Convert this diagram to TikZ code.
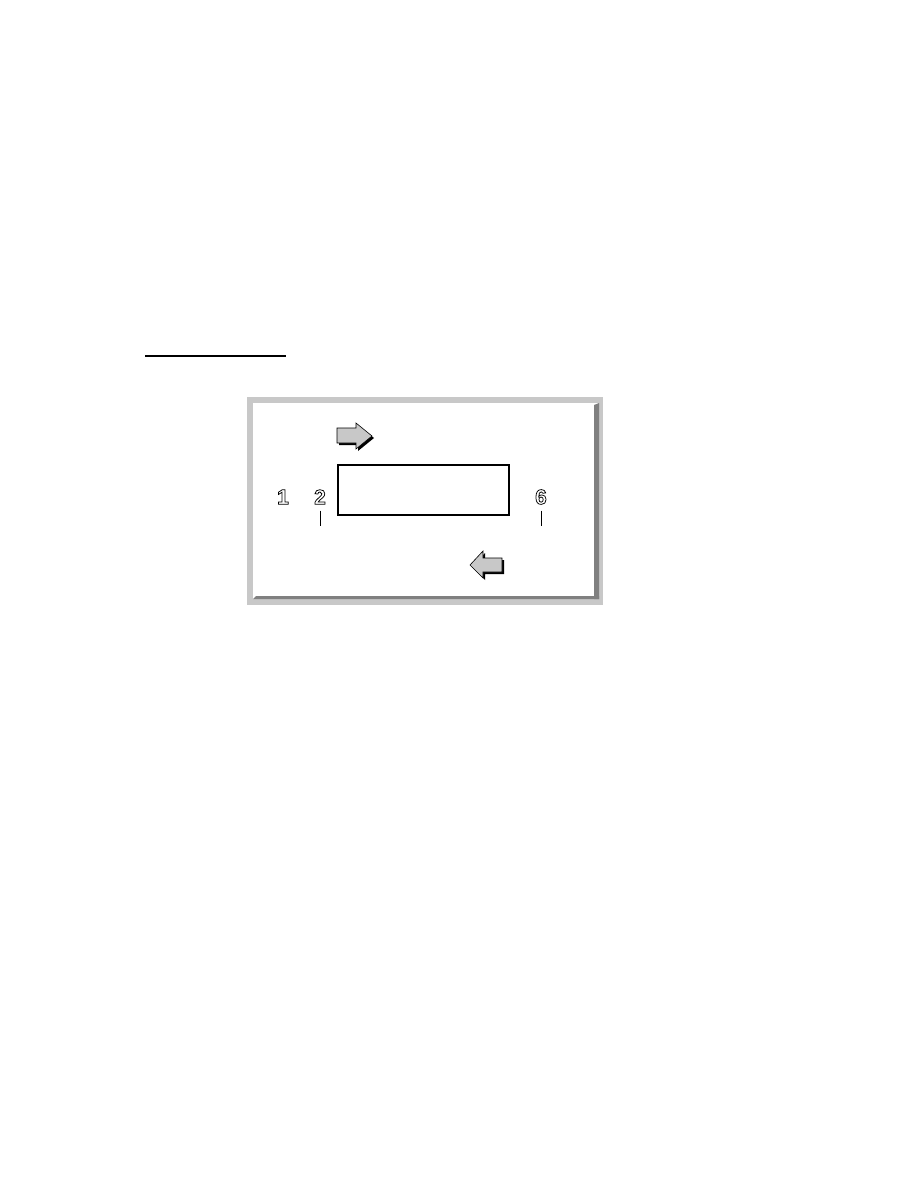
\documentclass[tikz,border=0pt]{standalone}
\usepackage{fontspec}
\setmainfont{Liberation Sans}
\usetikzlibrary{calc}
% hollow digits
\newcommand{\hollowtxt}[1]{\special{pdf:literal direct 1 Tr 0.5 w}#1\special{pdf:literal direct 0 Tr}}
\definecolor{framegray}{RGB}{200,200,200}
\definecolor{shadegray}{RGB}{128,128,128}
\definecolor{arrowgray}{RGB}{200,200,200}
\begin{document}
\begin{tikzpicture}[x=0.6667pt, y=-0.6667pt,
  digit/.style={font=\fontsize{14}{14}\selectfont\bfseries, inner sep=0pt},
  tick/.style={black, line width=0.5pt},
  fatarrow/.style={fill=arrowgray, draw=black, line width=0.4pt},
  arrowshadow/.style={fill=black}]
  \useasboundingbox (0,0) rectangle (918,1188);
  % rule over the figure
  \draw[black, line width=0.8pt] (145,356) -- (286,356);
  % frame
  \fill[framegray] (247,397) rectangle (603,605);
  \fill[white] (253,403) rectangle (599,599);
  \fill[shadegray] (594,405) -- (599,403) -- (599,599) -- (594,599) -- cycle;
  \fill[shadegray] (253,599) -- (256,596) -- (599,596) -- (599,599) -- cycle;
  % box
  \node[draw=black, line width=1.1pt, minimum width=171*0.6667pt, minimum height=50*0.6667pt, inner sep=0pt] (box) at (423.5,490) {};
  % labels
  \node[digit] (one) at (283,497) {\hollowtxt{1}};
  \node[digit] (two) at (320,497) {\hollowtxt{2}};
  \node[digit] (six) at (541,497) {\hollowtxt{6}};
  \coordinate (twotick) at (320,526);
  \coordinate (sixtick) at (541,526);
  \draw[tick] (two.south) ++(0,6) -- (twotick);
  \draw[tick] (six.south) ++(0,6) -- (sixtick);
  % arrow to the right
  \fill[arrowshadow, shift={(2,2)}] (337,428) -- (356,428) -- (356,423) -- (372,436) -- (356,449) -- (356,443) -- (337,443) -- cycle;
  \draw[fatarrow] (337,428) -- (356,428) -- (356,423) -- (372,436) -- (356,449) -- (356,443) -- (337,443) -- cycle;
  % arrow to the left
  \fill[arrowshadow, shift={(2,2)}] (502,558) -- (483,558) -- (483,551) -- (470,565) -- (483,578) -- (483,572) -- (502,572) -- cycle;
  \draw[fatarrow] (502,558) -- (483,558) -- (483,551) -- (470,565) -- (483,578) -- (483,572) -- (502,572) -- cycle;
\end{tikzpicture}
\end{document}
